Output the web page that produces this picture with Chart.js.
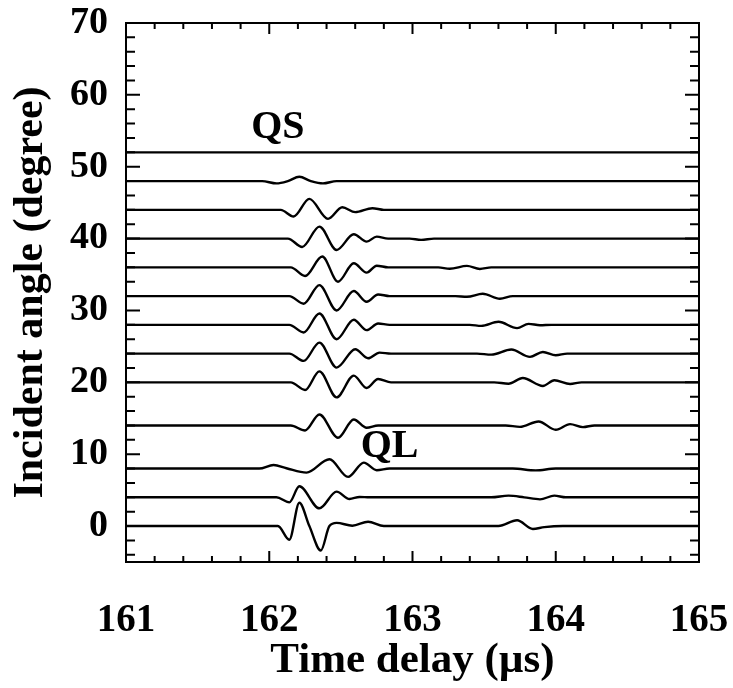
<!DOCTYPE html>
<html>
<head>
<meta charset="utf-8">
<script src="https://cdn.jsdelivr.net/npm/chart.js@4/dist/chart.umd.min.js"></script>
<style>
  html, body { margin: 0; padding: 0; background: #fff; }
  canvas { display: block; }
</style>
</head>
<body>
<canvas id="traces" width="733" height="688"></canvas>
<script>
// incident angle of each trace (degree), bottom to top
let angles = [0, 4, 8, 14, 20, 24, 28, 32, 36, 40, 44, 48, 52];

// [time delay (us), amplitude offset (degree units)] per trace
let trace0 = [
  [161, 0], [162.06, 0], [162.14, -1.9], [162.21, 3.24], [162.28, 0],
  [162.36, -3.4], [162.42, 0], [162.47, 0.45], [162.58, 0.05], [162.69, 0.6],
  [162.8, 0], [163.6, 0], [163.73, 0.8], [163.84, -0.4], [163.92, -0.15],
  [164.05, 0], [165, 0],
];
let trace4 = [
  [161, 0], [162.05, 0], [162.14, -0.7], [162.21, 1.53], [162.35, -1.53],
  [162.47, 0.79], [162.56, -0.23], [162.63, 0.05], [162.7, 0], [163.55, 0],
  [163.67, 0.23], [163.78, 0], [163.89, -0.28], [163.99, 0.23], [164.07, 0],
  [165, 0],
];
let trace8 = [
  [161, 0], [161.93, 0], [162.03, 0.5], [162.12, 0.05], [162.26, -0.56],
  [162.42, 1.3], [162.55, -1.16], [162.66, 0.83], [162.75, -0.23], [162.84, 0],
  [163.7, 0], [163.86, -0.25], [164.0, 0], [165, 0],
];
let trace14 = [
  [161, 0], [162.15, 0], [162.25, -0.7], [162.35, 1.53], [162.48, -1.72],
  [162.59, 0.83], [162.68, -0.32], [162.76, 0], [163.65, 0], [163.75, -0.2],
  [163.88, 0.56], [164.0, -0.6], [164.1, 0.19], [164.19, -0.23], [164.27, 0],
  [165, 0],
];
let trace20 = [
  [161, 0], [162.15, 0], [162.25, -1.07], [162.35, 1.53], [162.47, -2.09],
  [162.59, 0.93], [162.68, -0.79], [162.76, 0.46], [162.85, 0], [163.57, 0],
  [163.67, -0.2], [163.77, 0.6], [163.91, -0.51], [163.99, 0.28], [164.1, -0.23],
  [164.18, 0], [165, 0],
];
let trace24 = [
  [161, 0], [162.14, 0], [162.24, -1.02], [162.35, 1.53], [162.47, -1.95],
  [162.6, 0.6], [162.69, -0.65], [162.77, 0.14], [162.85, 0], [163.45, 0],
  [163.55, -0.15], [163.69, 0.56], [163.82, -0.46], [163.91, 0.23], [164.0, -0.23],
  [164.08, 0], [165, 0],
];
let trace28 = [
  [161, 0], [162.14, 0], [162.24, -1.07], [162.35, 1.58], [162.47, -2.0],
  [162.59, 0.7], [162.68, -0.74], [162.76, 0.19], [162.84, 0], [163.4, 0],
  [163.48, -0.15], [163.6, 0.42], [163.73, -0.46], [163.81, 0.14], [163.89, -0.05],
  [163.97, 0], [165, 0],
];
let trace32 = [
  [161, 0], [162.14, 0], [162.24, -1.07], [162.35, 1.53], [162.47, -2.0],
  [162.59, 0.7], [162.68, -0.79], [162.76, 0.23], [162.84, 0], [163.3, 0],
  [163.38, -0.1], [163.49, 0.32], [163.61, -0.37], [163.7, 0], [165, 0],
];
let trace36 = [
  [161, 0], [162.15, 0], [162.25, -1.2], [162.37, 1.5], [162.48, -2.0],
  [162.59, 0.56], [162.68, -0.74], [162.75, 0.23], [162.83, 0], [163.18, 0],
  [163.26, -0.2], [163.38, 0.2], [163.47, -0.22], [163.55, 0], [165, 0],
];
let trace40 = [
  [161, 0], [162.13, 0], [162.23, -1.16], [162.35, 1.67], [162.47, -1.58],
  [162.59, 0.6], [162.68, -0.42], [162.75, 0.28], [162.83, 0], [162.98, 0],
  [163.06, -0.18], [163.15, 0], [165, 0],
];
let trace44 = [
  [161, 0], [162.08, 0], [162.17, -0.93], [162.28, 1.53], [162.41, -1.25],
  [162.51, 0.37], [162.6, -0.32], [162.72, 0.23], [162.8, 0], [165, 0],
];
let trace48 = [
  [161, 0], [161.95, 0], [162.05, -0.32], [162.13, 0], [162.21, 0.6],
  [162.29, 0], [162.375, -0.32], [162.47, 0], [165, 0],
];
let trace52 = [[161, 0], [165, 0]];

let traces = [trace0, trace4, trace8, trace14, trace20, trace24, trace28,
  trace32, trace36, trace40, trace44, trace48, trace52];

let xTickLabels = [161, 162, 163, 164, 165];
let yTickLabels = [0, 10, 20, 30, 40, 50, 60, 70];

// wave labels, placed in data coordinates
let waveLabels = [
  { text: "QS", x: 162.06, y: 55.5 },
  { text: "QL", x: 162.84, y: 11.0 },
];

const serif = "'Liberation Serif', 'DejaVu Serif', serif";

// box round the plot with inward ticks on all four sides
const marcoTicks = {
  id: "marcoTicks",
  afterDatasetsDraw(chart) {
    const { ctx, chartArea: a, scales } = chart;
    const x = scales.x;
    const y = scales.y;
    ctx.save();
    ctx.strokeStyle = "#000";
    ctx.lineWidth = 2;
    ctx.strokeRect(a.left, a.top, a.right - a.left, a.bottom - a.top);

    ctx.beginPath();
    for (let i = 0; i <= 20; i++) {
      let px = x.getPixelForValue(161 + i * 0.2);
      let len = i % 5 === 0 ? 11 : 6;
      ctx.moveTo(px, a.bottom);
      ctx.lineTo(px, a.bottom - len);
      ctx.moveTo(px, a.top);
      ctx.lineTo(px, a.top + len);
    }
    for (let v = -4; v <= 68; v += 2) {
      let py = y.getPixelForValue(v);
      let len = v % 10 === 0 ? 14 : 9;
      ctx.moveTo(a.left, py);
      ctx.lineTo(a.left + len, py);
      ctx.moveTo(a.right, py);
      ctx.lineTo(a.right - len, py);
    }
    ctx.stroke();

    ctx.fillStyle = "#000";
    ctx.font = "bold 40px " + serif;
    ctx.textAlign = "center";
    ctx.textBaseline = "middle";
    waveLabels.forEach((l) => {
      ctx.fillText(l.text, x.getPixelForValue(l.x), y.getPixelForValue(l.y));
    });
    ctx.restore();
  },
};

// labels may hang over the plot edges, the padding already leaves room
function sinDesborde(scale) {
  scale.paddingLeft = 0;
  scale.paddingRight = 0;
  scale.paddingTop = 0;
  scale.paddingBottom = 0;
}

let datasets = traces.map((pts, i) => ({
  data: pts.map(([t, amp]) => ({ x: t, y: angles[i] + amp })),
  borderColor: "#000",
  borderWidth: 2.4,
  pointRadius: 0,
  fill: false,
  cubicInterpolationMode: "monotone",
}));

let chartTraces = new Chart("traces", {
  type: "line",
  data: { datasets: datasets },
  plugins: [marcoTicks],
  options: {
    responsive: false,
    animation: false,
    devicePixelRatio: 1,
    layout: { padding: { top: 23, right: 34, bottom: 0, left: 0 } },
    plugins: {
      legend: { display: false },
      tooltip: { enabled: false },
    },
    scales: {
      x: {
        type: "linear",
        min: 161,
        max: 165,
        afterBuildTicks: (scale) => {
          scale.ticks = xTickLabels.map((v) => ({ value: v }));
        },
        afterFit: (scale) => {
          scale.height = 126;
          sinDesborde(scale);
        },
        ticks: {
          color: "#000",
          padding: 28,
          font: { family: serif, size: 39, weight: "bold" },
        },
        grid: { display: false },
        border: { display: false },
        title: {
          display: true,
          text: "Time delay (µs)",
          color: "#000",
          padding: { top: 0, bottom: 1 },
          font: { family: serif, size: 43, weight: "bold" },
        },
      },
      y: {
        type: "linear",
        min: -5,
        max: 70,
        afterBuildTicks: (scale) => {
          scale.ticks = yTickLabels.map((v) => ({ value: v }));
        },
        afterFit: (scale) => {
          scale.width = 126;
          sinDesborde(scale);
        },
        ticks: {
          color: "#000",
          padding: 10,
          font: { family: serif, size: 38, weight: "bold" },
        },
        grid: { display: false },
        border: { display: false },
        title: {
          display: true,
          text: "Incident angle (degree)",
          color: "#000",
          padding: { top: 6, bottom: 0 },
          font: { family: serif, size: 42, weight: "bold" },
        },
      },
    },
  },
});
</script>
</body>
</html>
